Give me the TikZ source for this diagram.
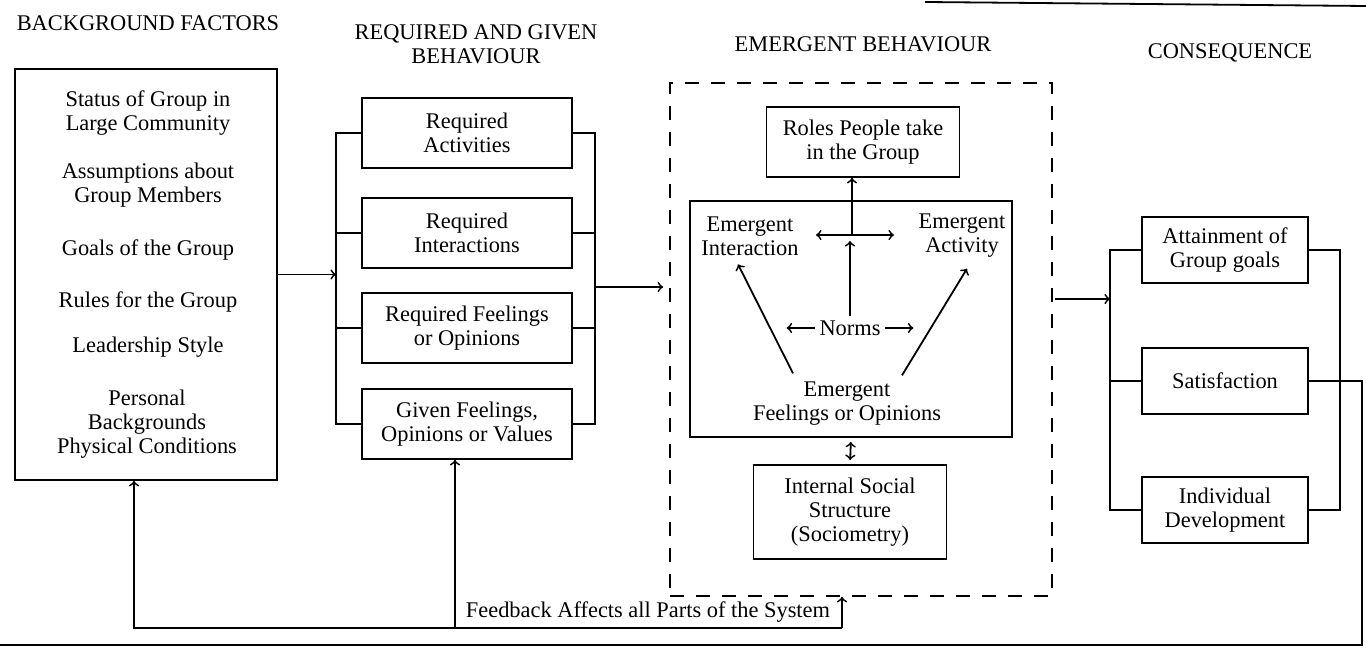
\documentclass[tikz,border=0pt]{standalone}
\usepackage{fontspec}
\setmainfont{Liberation Serif}
\usetikzlibrary{arrows,positioning}

\tikzset{
	box/.style={draw, align=center, inner sep=2pt},
	reqbox/.style={box, minimum width=105pt, minimum height=35pt},
	conbox/.style={box, minimum width=83pt, minimum height=33pt},
	dashbox/.style={draw, dash pattern=on 7pt off 6pt},
	label/.style={align=center, inner sep=2pt}
}

\begin{document}
\begin{tikzpicture}[x=0.5pt, y=-0.5pt, >=to, line width=0.9pt,
		font=\fontsize{11.2}{12}\selectfont, node distance=48pt]
		\useasboundingbox (0,0) rectangle (1366,651);
		
		% titles
		\node[label] (bgt) at (148,23)  {BACKGROUND FACTORS};
		\node[label] (rgt) at (476,44)  {REQUIRED AND GIVEN\\BEHAVIOUR};
		\node[label] (emt) at (863,44)  {EMERGENT BEHAVIOUR};
		\node[label] (cst) at (1230,53) {CONSEQUENCE};
		
		% background factors
		\node[box, minimum width=131pt, minimum height=205.5pt] (bg) at (146,274.5) {};
		\node[label] (bt1) at (148,113) {Status of Group in\\Large Community};
		\node[label] (bt2) at (148,185) {Assumptions about\\Group Members};
		\node[label] (bt3) at (148,250) {Goals of the Group};
		\node[label] (bt4) at (148,302) {Rules for the Group};
		\node[label] (bt5) at (148,347) {Leadership Style};
		\node[label] (bt6) at (147,424) {Personal\\Backgrounds\\Physical Conditions};
		
		% required and given behaviour
		\node[reqbox] (act)   at (467,133)                           {Required\\Activities};
		\node[reqbox] (inter) [below of=act, node distance=50pt]   {Required\\Interactions};
		\node[reqbox] (rfeel) [below of=inter, node distance=47.5pt] {Required Feelings\\or Opinions};
		\node[reqbox] (given) [below of=rfeel]                     {Given Feelings,\\Opinions or Values};
		
		\coordinate (rl) at (336,0);
		\coordinate (rr) at (595,0);
		\draw (act.west) -- (act.west -| rl) -- (given.west -| rl) -- (given.west);
		\draw (inter.west) -- (inter.west -| rl);
		\draw (rfeel.west) -- (rfeel.west -| rl);
		\draw (act.east) -- (act.east -| rr) -- (given.east -| rr) -- (given.east);
		\draw (inter.east) -- (inter.east -| rr);
		\draw (rfeel.east) -- (rfeel.east -| rr);
		\draw[->] (bg.east) -- (bg.east -| rl);
		
		% emergent behaviour
		\node[dashbox, minimum width=191pt, minimum height=256.5pt] (emb) at (861,339.5) {};
		\node[box, minimum width=96.5pt, minimum height=35pt] (roles) at (863,142) {Roles People take\\in the Group};
		\node[box, minimum width=161pt, minimum height=118pt] (emg) at (851,319) {};
		\node[box, minimum width=96.5pt, minimum height=47pt] (socio) at (850,512) {Internal Social\\Structure\\(Sociometry)};
		
		\node[label] (eint)  at (750,236) {Emergent\\Interaction};
		\node[label] (eact)  at (962,236) {Emergent\\Activity};
		\node[label] (norms) at (850,328) {Norms};
		\node[label] (efeel) at (847,404) {Emergent\\Feelings or Opinions};
		
		\coordinate (hub) at (852,235);
		\draw[->] (hub) -- (hub |- roles.south);
		\draw[<->] ([xshift=-18pt]hub) -- ([xshift=21pt]hub);
		\draw[->, shorten >=3pt] (norms.north) -- (norms.north |- hub);
		\draw[->] (norms.west) -- ([xshift=-14pt]norms.west);
		\draw[->] (norms.east) -- ([xshift=14pt]norms.east);
		\draw[->] ([xshift=-27pt,yshift=2pt]efeel.north) -- ([xshift=-6pt,yshift=-2pt]eint.south);
		\draw[->] ([xshift=27.5pt,yshift=1pt]efeel.north) -- ([xshift=2.5pt,yshift=-3pt]eact.south);
		\draw[<->, shorten <=2pt, shorten >=2pt] (emg.south) -- (socio.north);
		
		\coordinate (rout) at (595,287);
		\draw[->] (rout) -- ([xshift=-3pt]rout -| emb.west);
		
		% consequence
		\node[conbox] (att)   at (1225,250)                           {Attainment of\\Group goals};
		\node[conbox] (sat)   [below of=att, node distance=65.5pt]   {Satisfaction};
		\node[conbox] (indiv) [below of=sat, node distance=64.5pt]   {Individual\\Development};
		
		\coordinate (cl) at (1110,0);
		\coordinate (cr) at (1340,0);
		\draw (att.west) -- (att.west -| cl) -- (indiv.west -| cl) -- (indiv.west);
		\draw (sat.west) -- (sat.west -| cl);
		\draw (att.east) -- (att.east -| cr) -- (indiv.east -| cr) -- (indiv.east);
		
		\coordinate (cin) at (1110,299);
		\draw[->] ([xshift=1pt]cin -| emb.east) -- (cin);
		
		% feedback
		\coordinate (fbc) at (1362,645);
		\coordinate (fbe) at (0,645);
		\draw (sat.east) -| (fbc) -- (fbe);
		
		\coordinate (fbl) at (134,628);
		\coordinate (fbm) at (455,628);
		\coordinate (fbr) at (842,628);
		\draw[->] (fbr) -- (fbl) -- (fbl |- bg.south);
		\draw[->] (fbm) -- (fbm |- given.south);
		\draw[->] (fbr) -- (fbr |- emb.south);
		\node[label] (fbt) at (648,612) {Feedback Affects all Parts of the System};
		
		\coordinate (tl1) at (925,2);
		\coordinate (tl2) at (1366,6);
		\draw (tl1) -- (tl2);
\end{tikzpicture}
\end{document}
